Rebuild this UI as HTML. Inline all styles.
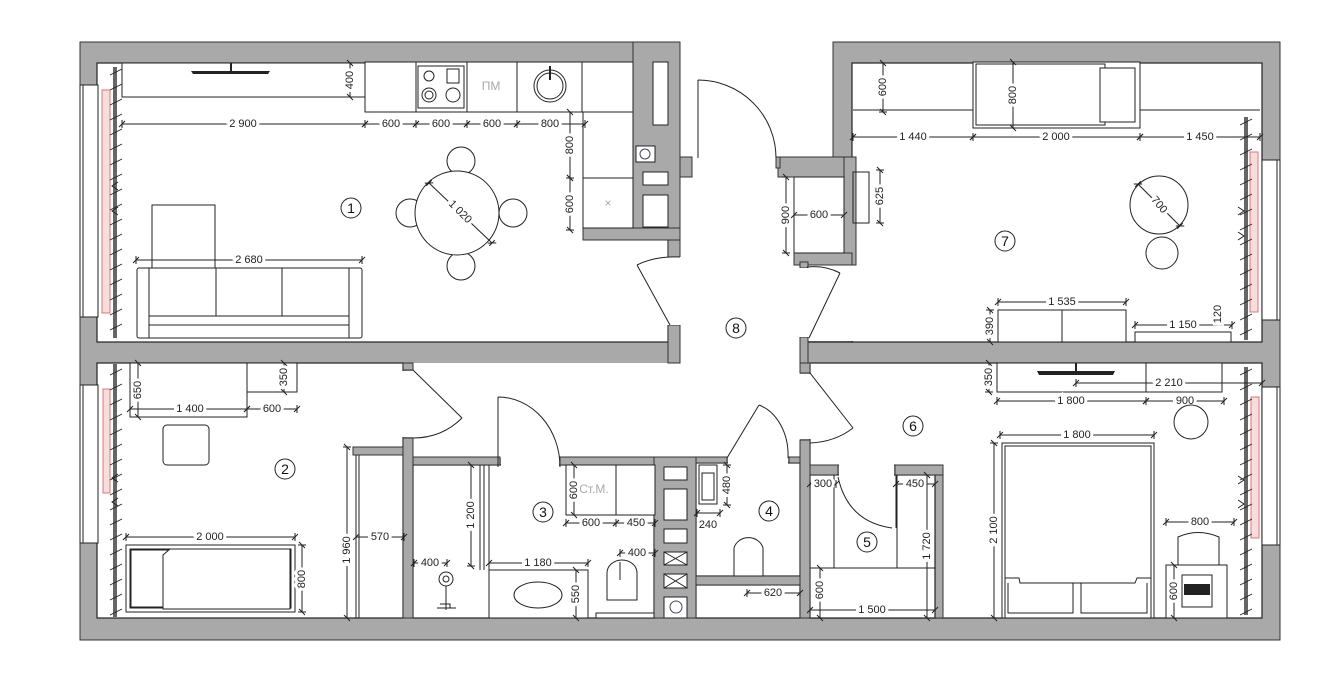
<!DOCTYPE html>
<html><head><meta charset="utf-8"><style>
html,body{margin:0;padding:0;background:#fff}
svg{display:block}
.g{fill:#a9a9a9;stroke:#333;stroke-width:1}
.w{fill:#fff;stroke:#222;stroke-width:1.2}
.o{fill:#fff;stroke:none}
.f{fill:#fff;stroke:#222;stroke-width:1}
.n{fill:none;stroke:#222;stroke-width:1}
.dl{stroke:#222;stroke-width:1;marker-start:url(#tk);marker-end:url(#tk)}
.d{font-family:"Liberation Sans",sans-serif;font-size:11px;fill:#222;stroke:#fff;stroke-width:6;paint-order:stroke;text-anchor:middle;dominant-baseline:central}
.lb{font-family:"Liberation Sans",sans-serif;font-size:14px;fill:#111;text-anchor:middle;dominant-baseline:central}
.gt{font-family:"Liberation Sans","DejaVu Sans",sans-serif;font-size:12px;fill:#aaa;text-anchor:middle;dominant-baseline:central}
.rad{fill:#f6dede;stroke:#d77;stroke-width:1}
</style></head><body>
<svg width="1343" height="676" viewBox="0 0 1343 676" xmlns="http://www.w3.org/2000/svg">
<defs>
<marker id="tk" markerWidth="8" markerHeight="8" refX="4" refY="4" orient="auto" markerUnits="userSpaceOnUse">
<path d="M1,7 L7,1 M4,0 L4,8" stroke="#222" stroke-width="1"/>
</marker>
<pattern id="hat" width="6" height="6" patternUnits="userSpaceOnUse"><path d="M0,6 L6,0" stroke="#d77" stroke-width="0.8"/></pattern>
</defs>

<!-- building mass -->
<path class="g" d="M80,42 H680 V157 H833 V42 H1280 V640 H80 Z"/>

<!-- rooms -->
<rect class="w" x="97" y="63" width="571" height="279"/>
<rect class="w" x="852" y="63" width="410" height="279"/>
<rect class="o" x="806" y="263" width="54" height="78"/>
<line x1="806" y1="342" x2="853" y2="342" stroke="#222" stroke-width="1.2"/>
<rect class="o" x="680" y="150" width="120" height="308"/>
<rect class="o" x="413" y="363" width="387" height="95"/>
<rect class="w" x="97" y="363" width="306" height="255"/>
<rect class="w" x="413" y="465" width="241" height="153"/>
<rect class="w" x="696" y="463" width="104" height="113"/>
<rect class="w" x="696" y="585" width="104" height="33"/>
<rect class="w" x="810" y="363" width="452" height="255"/>
<rect class="g" x="810" y="465" width="133" height="153"/>
<rect class="w" x="810" y="475" width="125" height="143"/>

<path class="n" d="M680,177 V257 M680,325 V342 M413,363 V370"/>

<!-- kitchen gray block -->
<rect class="g" x="633" y="42" width="47" height="198"/>
<rect class="g" x="583" y="228" width="97" height="12"/>
<rect class="g" x="668" y="240" width="12" height="17"/>
<rect class="g" x="668" y="325" width="12" height="38"/>
<rect class="g" x="680" y="157" width="12" height="20"/>
<rect class="f" x="653" y="62" width="15" height="63"/>
<rect class="f" x="643" y="172" width="25" height="13"/>
<rect class="f" x="643" y="195" width="25" height="32"/>
<rect class="f" x="636" y="146" width="19" height="16"/>
<circle cx="645" cy="154" r="5" fill="none" stroke="#446" stroke-width="1"/>

<!-- room 7 closet jut -->
<rect class="g" x="778" y="157" width="74" height="20"/>
<rect class="g" x="844" y="157" width="12" height="108"/>
<rect class="g" x="794" y="253" width="58" height="12"/>
<rect class="f" x="794" y="177" width="50" height="76"/>
<rect class="g" x="800" y="262" width="8" height="6"/>
<rect class="g" x="776" y="157" width="4" height="11"/>

<!-- lower walls -->
<rect class="g" x="403" y="438" width="10" height="180"/>
<rect class="g" x="403" y="363" width="10" height="7"/>
<rect class="g" x="353" y="447" width="50" height="8"/>
<rect class="g" x="413" y="457" width="87" height="8"/>
<rect class="g" x="560" y="457" width="95" height="8"/>
<rect class="g" x="654" y="457" width="42" height="161"/>
<rect class="g" x="696" y="457" width="31" height="6"/>
<rect class="g" x="789" y="457" width="21" height="6"/>
<rect class="g" x="800" y="440" width="10" height="178"/>
<rect class="g" x="800" y="363" width="10" height="10"/>
<rect class="g" x="696" y="576" width="104" height="9"/>
<rect class="g" x="810" y="465" width="28" height="10"/>
<rect class="g" x="895" y="465" width="48" height="10"/>
<rect class="g" x="800" y="337" width="8" height="26"/>

<!-- door openings -->
<rect class="o" x="667" y="257" width="14" height="68"/>
<rect class="o" x="402" y="371" width="12" height="66"/>
<rect class="o" x="799" y="268" width="10" height="69"/>
<rect class="o" x="799" y="374" width="12" height="65"/>
<rect class="o" x="501" y="456" width="58" height="10"/>
<rect class="o" x="728" y="456" width="60" height="8"/>
<rect class="o" x="839" y="464" width="55" height="12"/>
<rect class="o" x="693" y="150" width="82" height="12"/>

<!-- shaft boxes -->
<rect class="f" x="664" y="467" width="23" height="13"/>
<rect class="f" x="664" y="489" width="23" height="31"/>
<rect class="f" x="664" y="529" width="23" height="14"/>
<rect class="f" x="664" y="552" width="23" height="13"/><path class="n" d="M664,552 L687,565 M687,552 L664,565"/>
<rect class="f" x="664" y="574" width="23" height="14"/><path class="n" d="M664,574 L687,588 M687,574 L664,588"/>
<rect class="f" x="664" y="597" width="23" height="21"/>
<circle cx="676" cy="607" r="6" fill="none" stroke="#446"/>

<!-- windows -->
<rect class="f" x="80" y="85" width="18" height="232"/><line x1="83" y1="85" x2="83" y2="317" stroke="#222"/>
<rect class="f" x="80" y="385" width="18" height="158"/><line x1="83" y1="385" x2="83" y2="543" stroke="#222"/>
<rect class="f" x="1262" y="160" width="18" height="160"/><line x1="1277" y1="160" x2="1277" y2="320" stroke="#222"/>
<rect class="f" x="1262" y="387" width="18" height="158"/><line x1="1277" y1="387" x2="1277" y2="545" stroke="#222"/>

<!-- radiators + curtain lines -->
<rect class="rad" x="102" y="90" width="8" height="223" fill="url(#hat)"/>
<rect class="rad" x="103" y="389" width="7" height="104" fill="url(#hat)"/>
<rect class="rad" x="1250" y="152" width="8" height="160" fill="url(#hat)"/>
<rect class="rad" x="1251" y="397" width="8" height="141" fill="url(#hat)"/>
<rect x="113" y="67" width="4" height="271" fill="#666"/>
<rect x="113" y="364" width="4" height="253" fill="#666"/>
<rect x="1244" y="117" width="4" height="223" fill="#666"/>
<rect x="1244" y="367" width="4" height="248" fill="#666"/>
<path d="M110,75 l12,-6 M110,90 l12,-6 M110,105 l12,-6 M110,120 l12,-6 M110,135 l12,-6 M110,150 l12,-6 M110,165 l12,-6 M110,180 l12,-6 M110,195 l12,-6 M110,210 l12,-6 M110,225 l12,-6 M110,240 l12,-6 M110,255 l12,-6 M110,270 l12,-6 M110,285 l12,-6 M110,300 l12,-6 M110,315 l12,-6 M110,330 l12,-6
M110,375 l12,-6 M110,390 l12,-6 M110,405 l12,-6 M110,420 l12,-6 M110,435 l12,-6 M110,450 l12,-6 M110,465 l12,-6 M110,480 l12,-6 M110,495 l12,-6 M110,510 l12,-6 M110,525 l12,-6 M110,540 l12,-6 M110,555 l12,-6 M110,570 l12,-6 M110,585 l12,-6 M110,600 l12,-6 M110,615 l12,-6
M1240,125 l12,-6 M1240,140 l12,-6 M1240,155 l12,-6 M1240,170 l12,-6 M1240,185 l12,-6 M1240,200 l12,-6 M1240,215 l12,-6 M1240,230 l12,-6 M1240,245 l12,-6 M1240,260 l12,-6 M1240,275 l12,-6 M1240,290 l12,-6 M1240,305 l12,-6 M1240,320 l12,-6 M1240,335 l12,-6
M1240,375 l12,-6 M1240,390 l12,-6 M1240,405 l12,-6 M1240,420 l12,-6 M1240,435 l12,-6 M1240,450 l12,-6 M1240,465 l12,-6 M1240,480 l12,-6 M1240,495 l12,-6 M1240,510 l12,-6 M1240,525 l12,-6 M1240,540 l12,-6 M1240,555 l12,-6 M1240,570 l12,-6 M1240,585 l12,-6 M1240,600 l12,-6 M1240,615 l12,-6" stroke="#222" stroke-width="0.9"/>
<path class="n" d="M118,190 l-6,-4 l6,-4 M118,207 l-6,4 l6,4 M118,482 l-6,-4 l6,-4 M118,498 l-6,4 l6,4 M1238,215 l6,-4 l-6,-4 M1238,232 l6,4 l-6,4 M1238,484 l6,-4 l-6,-4 M1238,500 l6,4 l-6,4"/>

<!-- doors -->
<path class="n" d="M698,80 V158 M698,80 A78,78 0 0 1 776,158"/>
<path class="n" d="M670,325 L637,265 M637,265 Q655,256 680,257"/>
<path class="n" d="M809,338 L840,273 M840,273 Q825,265 807,267"/>
<path class="n" d="M810,373 L853,428 M853,428 Q835,442 810,443"/>
<path class="n" d="M413,370 L462,418 M462,418 Q442,438 413,438"/>
<path class="n" d="M498,397 V467 M498,397 A62,70 0 0 1 560,467"/>
<path class="n" d="M727,458 L759,405 M759,405 A40,52 0 0 1 788,458"/>
<path class="n" d="M838,477 Q848,522 892,528 M896,475 V528"/>

<!-- Room 1 furniture -->
<rect class="f" x="122" y="63" width="243" height="34"/>
<path d="M191,71 H270 L268,74 H193 Z" fill="#222"/><line x1="231" y1="63" x2="231" y2="71" stroke="#222" stroke-width="2"/>
<rect class="f" x="365" y="62" width="268" height="50"/>
<path class="n" d="M416,62 V112 M467,62 V112 M517,62 V112 M582,62 V112"/>
<rect class="f" x="418" y="66" width="46" height="42"/>
<circle class="n" cx="429" cy="76" r="5"/><circle class="n" cx="429" cy="95" r="7"/><circle class="n" cx="429" cy="95" r="4"/><circle class="n" cx="453" cy="95" r="7"/><rect class="n" x="447" y="69" width="12" height="14"/>
<text class="gt" x="491" y="86">ПМ</text>
<circle class="n" cx="550" cy="86" r="16"/><circle class="n" cx="550" cy="86" r="13"/><line x1="550" y1="66" x2="550" y2="80" stroke="#222" stroke-width="2"/>
<rect class="f" x="583" y="112" width="50" height="116"/>
<line x1="583" y1="178" x2="633" y2="178" stroke="#222"/>
<text class="gt" x="608" y="203">×</text>
<rect class="f" x="152" y="205" width="63" height="63"/>
<rect class="f" x="137" y="268" width="225" height="70" rx="2"/>
<path class="n" d="M149,268 V338 M216,268 V316 M282,268 V316 M349,268 V338 M149,316 H349 M149,325 H349"/>
<circle class="f" cx="461" cy="161" r="14"/><circle class="f" cx="461" cy="266" r="14"/><circle class="f" cx="410" cy="213" r="14"/><circle class="f" cx="513" cy="213" r="14"/>
<circle class="f" cx="457" cy="213" r="42"/>
<line class="dl" x1="429" y1="183" x2="492" y2="243"/>
<text class="d" x="460" y="212" transform="rotate(45 460 212)">1 020</text>
<circle class="n" cx="351" cy="208" r="10"/><text class="lb" x="351" y="208">1</text>

<!-- Room 1 dims -->
<line class="dl" x1="122" y1="124" x2="365" y2="124"/><text class="d" x="243" y="124">2 900</text>
<line class="dl" x1="365" y1="124" x2="416" y2="124"/><text class="d" x="391" y="124">600</text>
<line class="dl" x1="416" y1="124" x2="467" y2="124"/><text class="d" x="441" y="124">600</text>
<line class="dl" x1="467" y1="124" x2="517" y2="124"/><text class="d" x="492" y="124">600</text>
<line class="dl" x1="517" y1="124" x2="585" y2="124"/><text class="d" x="550" y="124">800</text>
<line class="dl" x1="570" y1="112" x2="570" y2="178"/><text class="d" x="570" y="145" transform="rotate(-90 570 145)">800</text>
<line class="dl" x1="570" y1="178" x2="570" y2="230"/><text class="d" x="570" y="204" transform="rotate(-90 570 204)">600</text>
<line class="dl" x1="136" y1="260" x2="362" y2="260"/><text class="d" x="249" y="260">2 680</text>
<line class="dl" x1="350" y1="63" x2="350" y2="97"/><text class="d" x="350" y="80" transform="rotate(-90 350 80)">400</text>

<!-- Room 7 -->
<path class="n" d="M853,110 H973 M1140,110 H1260"/>
<rect class="f" x="973" y="62" width="167" height="66"/>
<rect class="f" x="976" y="64" width="129" height="61"/>
<rect class="f" x="1100" y="68" width="35" height="54"/>
<rect class="n" x="853" y="172" width="16" height="51"/>
<line class="dl" x1="883" y1="63" x2="883" y2="112"/><text class="d" x="883" y="87" transform="rotate(-90 883 87)">600</text>
<line class="dl" x1="1013" y1="62" x2="1013" y2="128"/><text class="d" x="1013" y="95" transform="rotate(-90 1013 95)">800</text>
<line class="dl" x1="853" y1="137" x2="973" y2="137"/><text class="d" x="913" y="137">1 440</text>
<line class="dl" x1="973" y1="137" x2="1140" y2="137"/><text class="d" x="1056" y="137">2 000</text>
<line class="dl" x1="1140" y1="137" x2="1260" y2="137"/><text class="d" x="1200" y="137">1 450</text>
<line class="dl" x1="786" y1="177" x2="786" y2="253"/><text class="d" x="786" y="215" transform="rotate(-90 786 215)">900</text>
<line class="dl" x1="794" y1="215" x2="844" y2="215"/><text class="d" x="819" y="215">600</text>
<line class="dl" x1="880" y1="170" x2="880" y2="223"/><text class="d" x="880" y="196" transform="rotate(-90 880 196)">625</text>
<circle class="f" cx="1159" cy="205" r="29"/>
<line class="dl" x1="1138" y1="184" x2="1180" y2="226"/><text class="d" x="1159" y="205" transform="rotate(50 1159 205)">700</text>
<circle class="f" cx="1162" cy="253" r="16"/>
<rect class="f" x="998" y="310" width="128" height="32"/><line x1="1062" y1="310" x2="1062" y2="342" stroke="#222"/>
<rect class="f" x="1135" y="332" width="96" height="10"/>
<line class="dl" x1="998" y1="302" x2="1126" y2="302"/><text class="d" x="1062" y="302">1 535</text>
<line class="dl" x1="990" y1="310" x2="990" y2="342"/><text class="d" x="990" y="326" transform="rotate(-90 990 326)">390</text>
<line class="dl" x1="1135" y1="325" x2="1232" y2="325"/><text class="d" x="1183" y="325">1 150</text>
<text class="d" x="1218" y="314" transform="rotate(-90 1218 314)">120</text>
<circle class="n" cx="1005" cy="241" r="10"/><text class="lb" x="1005" y="241">7</text>
<circle class="n" cx="736" cy="328" r="10"/><text class="lb" x="736" y="328">8</text>

<!-- Room 2 -->
<rect class="f" x="130" y="363" width="117" height="54"/>
<rect class="f" x="247" y="363" width="50" height="29"/>
<rect class="f" x="163" y="425" width="46" height="40" rx="4"/>
<rect class="f" x="126" y="545" width="169" height="67"/>
<rect class="n" x="130" y="549" width="161" height="59"/>
<rect class="f" x="131" y="550" width="46" height="57"/>
<path class="f" d="M163,555 L163,609 L290,609 L290,549 L170,549 Z"/>
<line class="dl" x1="138" y1="363" x2="138" y2="417"/><text class="d" x="138" y="390" transform="rotate(-90 138 390)">650</text>
<line class="dl" x1="130" y1="409" x2="247" y2="409"/><text class="d" x="190" y="409">1 400</text>
<line class="dl" x1="247" y1="409" x2="297" y2="409"/><text class="d" x="272" y="409">600</text>
<line class="dl" x1="284" y1="363" x2="284" y2="392"/><text class="d" x="284" y="377" transform="rotate(-90 284 377)">350</text>
<line class="dl" x1="126" y1="537" x2="295" y2="537"/><text class="d" x="210" y="537">2 000</text>
<line class="dl" x1="302" y1="545" x2="302" y2="612"/><text class="d" x="302" y="579" transform="rotate(-90 302 579)">800</text>
<path class="n" d="M356,455 V618 M359,455 V618"/>
<line class="dl" x1="347" y1="447" x2="347" y2="618"/><text class="d" x="347" y="550" transform="rotate(-90 347 550)">1 960</text>
<line class="dl" x1="356" y1="537" x2="404" y2="537"/><text class="d" x="380" y="537">570</text>
<circle class="n" cx="285" cy="469" r="10"/><text class="lb" x="285" y="469">2</text>

<!-- Bath 3 -->
<path class="n" d="M480,465 V570 M484,465 V570 M489,465 V570"/>
<line class="dl" x1="414" y1="563" x2="447" y2="563"/><text class="d" x="430" y="563">400</text>
<circle class="n" cx="446" cy="579" r="7"/><circle class="n" cx="446" cy="579" r="3"/>
<path d="M446,586 V610 M437,608 H456 M440,604 h10 v4" stroke="#222" fill="none"/>
<line class="dl" x1="471" y1="465" x2="471" y2="566"/><text class="d" x="471" y="515" transform="rotate(-90 471 515)">1 200</text>
<rect class="f" x="489" y="570" width="99" height="48"/>
<ellipse class="n" cx="538" cy="595" rx="24" ry="13"/>
<line class="dl" x1="489" y1="563" x2="588" y2="563"/><text class="d" x="538" y="563">1 180</text>
<line class="dl" x1="576" y1="570" x2="576" y2="618"/><text class="d" x="576" y="594" transform="rotate(-90 576 594)">550</text>
<rect class="f" x="566" y="465" width="89" height="50"/><line x1="616" y1="465" x2="616" y2="515" stroke="#222"/>
<text class="gt" x="594" y="489">Ст.М.</text>
<line class="dl" x1="574" y1="465" x2="574" y2="515"/><text class="d" x="574" y="490" transform="rotate(-90 574 490)">600</text>
<line class="dl" x1="566" y1="523" x2="616" y2="523"/><text class="d" x="591" y="523">600</text>
<line class="dl" x1="616" y1="523" x2="655" y2="523"/><text class="d" x="636" y="523">450</text>
<path class="f" d="M607,600 V573 A15,13 0 0 1 637,573 V600 Z"/><line x1="620" y1="562" x2="620" y2="580" stroke="#222"/>
<line class="dl" x1="620" y1="553" x2="655" y2="553"/><text class="d" x="637" y="553">400</text>
<rect class="f" x="596" y="613" width="58" height="5"/>
<circle class="n" cx="543" cy="512" r="10"/><text class="lb" x="543" y="512">3</text>

<!-- WC 4 -->
<rect class="f" x="699" y="465" width="18" height="39"/><rect class="n" x="702" y="473" width="12" height="27"/>
<line class="dl" x1="727" y1="465" x2="727" y2="505"/><text class="d" x="727" y="485" transform="rotate(-90 727 485)">480</text>
<line class="dl" x1="697" y1="513" x2="720" y2="513"/><text class="d" x="708" y="525" style="stroke:none">240</text>
<path class="f" d="M734,576 V548 A15,14 0 0 1 763,548 V576 Z"/>
<line class="dl" x1="747" y1="593" x2="800" y2="593"/><text class="d" x="773" y="593">620</text>
<circle class="n" cx="769" cy="511" r="10"/><text class="lb" x="769" y="511">4</text>

<!-- Room 5 -->
<path class="n" d="M834,475 V568 M897,475 V568 M810,568 H935"/>
<line class="dl" x1="810" y1="484" x2="836" y2="484"/><text class="d" x="823" y="484">300</text>
<line class="dl" x1="896" y1="484" x2="935" y2="484"/><text class="d" x="915" y="484">450</text>
<line class="dl" x1="927" y1="475" x2="927" y2="618"/><text class="d" x="927" y="546" transform="rotate(-90 927 546)">1 720</text>
<line class="dl" x1="820" y1="568" x2="820" y2="618"/><text class="d" x="820" y="590" transform="rotate(-90 820 590)">600</text>
<line class="dl" x1="810" y1="610" x2="935" y2="610"/><text class="d" x="872" y="610">1 500</text>
<circle class="n" cx="867" cy="542" r="10"/><text class="lb" x="867" y="542">5</text>

<!-- Room 6 -->
<rect class="f" x="997" y="363" width="225" height="29"/><line x1="1146" y1="363" x2="1146" y2="392" stroke="#222"/>
<path d="M1037,371 H1115 L1113,375 H1039 Z" fill="#222"/><line x1="1076" y1="363" x2="1076" y2="371" stroke="#222" stroke-width="2"/>
<line class="dl" x1="989" y1="363" x2="989" y2="392"/><text class="d" x="989" y="377" transform="rotate(-90 989 377)">350</text>
<line class="dl" x1="1076" y1="383" x2="1262" y2="383"/><text class="d" x="1169" y="383">2 210</text>
<line class="dl" x1="997" y1="401" x2="1146" y2="401"/><text class="d" x="1071" y="401">1 800</text>
<line class="dl" x1="1146" y1="401" x2="1224" y2="401"/><text class="d" x="1185" y="401">900</text>
<circle class="f" cx="1191" cy="422" r="17"/>
<line class="dl" x1="1000" y1="435" x2="1154" y2="435"/><text class="d" x="1077" y="435">1 800</text>
<rect class="f" x="1002" y="443" width="152" height="175"/>
<rect class="n" x="1005" y="446" width="146" height="172"/>
<path class="n" d="M1005,578 H1019 L1020,583 H1135 L1137,578 H1151 M1008,583 V613 H1073 V583 M1081,583 V613 H1147 V583"/>
<line class="dl" x1="994" y1="443" x2="994" y2="618"/><text class="d" x="994" y="530" transform="rotate(-90 994 530)">2 100</text>
<line class="dl" x1="1166" y1="522" x2="1234" y2="522"/><text class="d" x="1200" y="522">800</text>
<path class="f" d="M1178,565 V537 Q1198,528 1219,537 V565 Z"/>
<rect class="f" x="1166" y="565" width="61" height="53"/>
<rect class="f" x="1182" y="575" width="30" height="32"/><rect x="1184" y="584" width="26" height="11" fill="#222"/>
<line class="dl" x1="1174" y1="565" x2="1174" y2="618"/><text class="d" x="1174" y="591" transform="rotate(-90 1174 591)">600</text>
<circle class="n" cx="913" cy="426" r="10"/><text class="lb" x="913" y="426">6</text>
</svg>
</body></html>
